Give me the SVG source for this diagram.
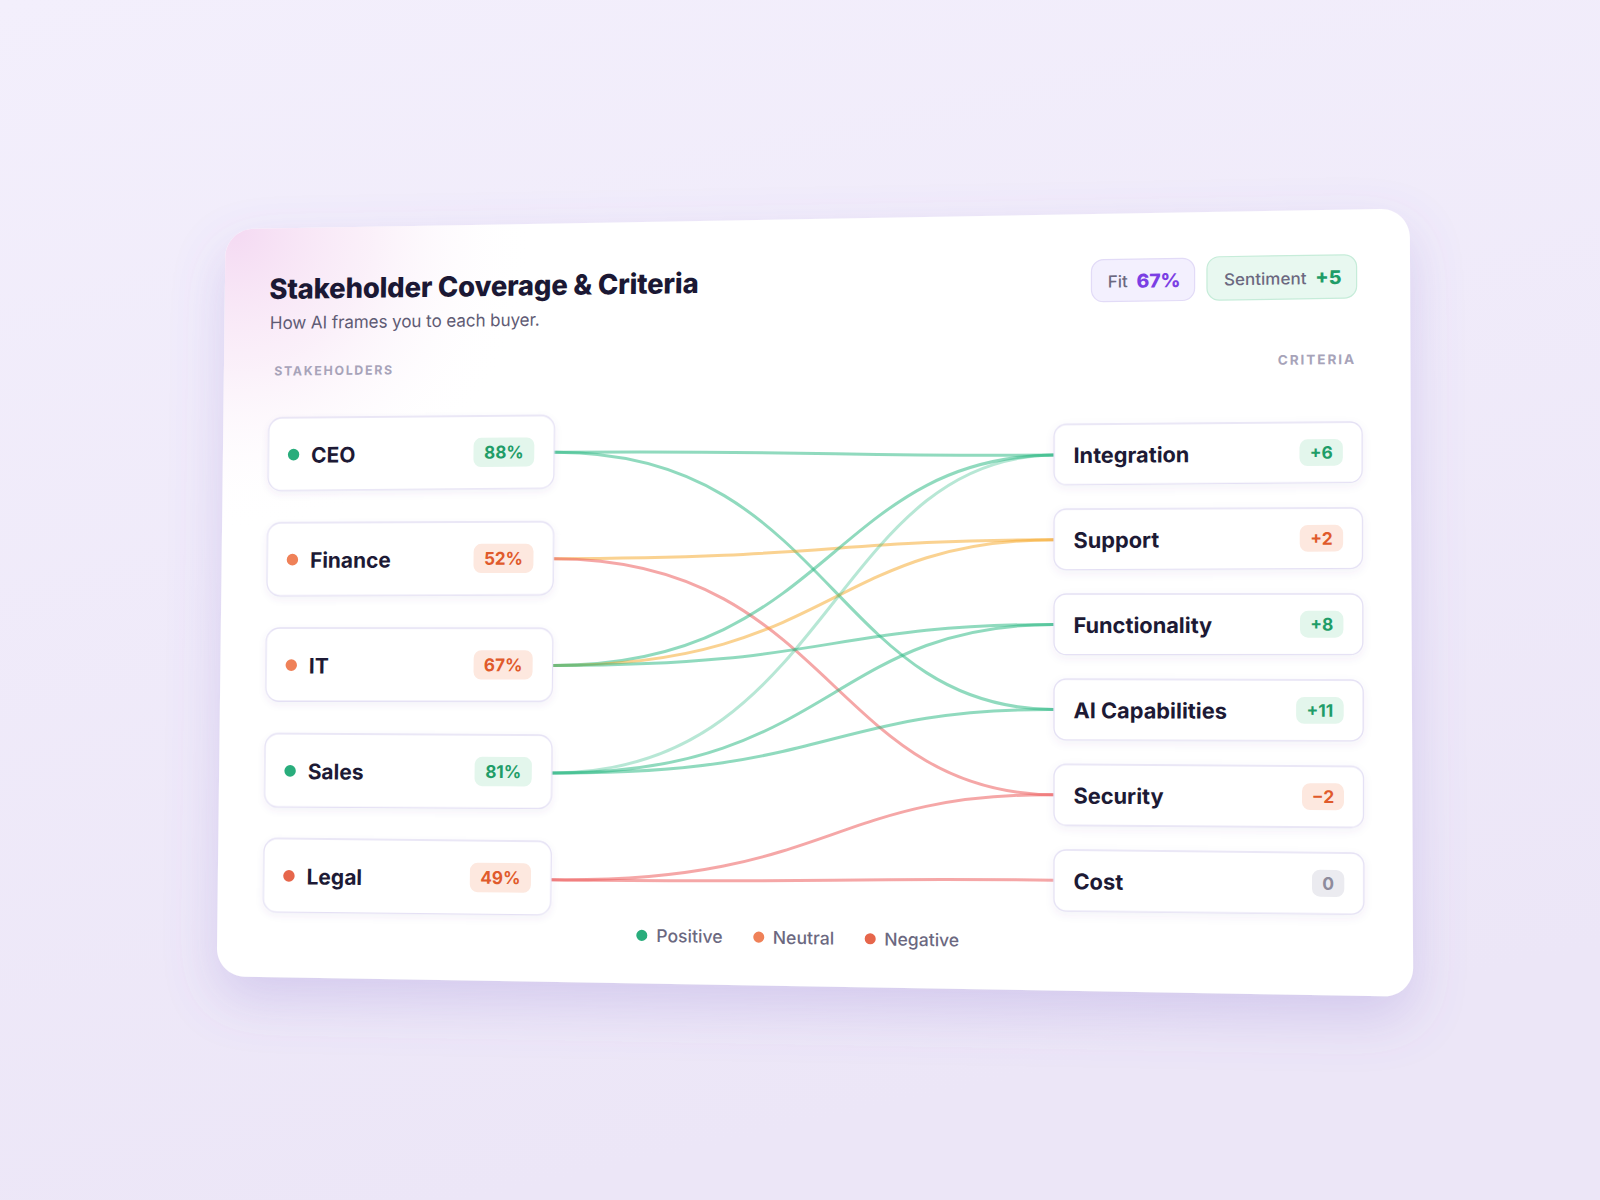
<svg xmlns="http://www.w3.org/2000/svg" width="1600" height="1200" viewBox="0 0 1600 1200">
<defs>
<style>
.f{font-family:Inter,'Liberation Sans',sans-serif}
.title{font-family:Inter,'Liberation Sans',sans-serif;font-weight:800;font-size:29px;letter-spacing:-0.2px;fill:#1b1834}
.sub{font-family:Inter,'Liberation Sans',sans-serif;font-weight:400;font-size:18px;letter-spacing:-0.1px;fill:#5f5b74}
.cap{font-family:Inter,'Liberation Sans',sans-serif;font-weight:700;font-size:13px;letter-spacing:1.8px;fill:#a7a3b9}
.nbox{fill:#ffffff;stroke:#e4e0f4;stroke-width:1.3}
.lbl{font-family:Inter,'Liberation Sans',sans-serif;font-weight:700;font-size:22px;fill:#1d1a35}
.lbr{font-family:Inter,'Liberation Sans',sans-serif;font-weight:700;font-size:21.3px;fill:#1d1a35}
.pct{font-family:Inter,'Liberation Sans',sans-serif;font-weight:700;font-size:18px;text-anchor:middle}
.pct2{font-family:Inter,'Liberation Sans',sans-serif;font-weight:700;font-size:17px;text-anchor:middle}
.gbg{fill:#e3f6ec}.gtx{fill:#1f9d68}
.obg{fill:#fde8df}.otx{fill:#e05a2b}
.nbg{fill:#ebebf0}.ntx{fill:#8e8b9c}
.dpos{fill:#29ad7c}.dneu{fill:#ef8158}.dneg{fill:#e6664b}
.link{fill:none;stroke-width:3}
.pos{stroke:#2bb883;stroke-opacity:.52}
.pos2{stroke:#2bb883;stroke-opacity:.34}
.neu{stroke:#f5a623;stroke-opacity:.5}
.neg{stroke:#ec5f5f;stroke-opacity:.55}
.leg{font-family:Inter,'Liberation Sans',sans-serif;font-weight:500;font-size:17.5px;fill:#6b6880}
.bl{font-family:Inter,'Liberation Sans',sans-serif;font-weight:500;font-size:16.5px;fill:#6b6880}
</style>
<linearGradient id="bg" x1="0" y1="0" x2="0.3" y2="1">
<stop offset="0" stop-color="#f3effc"/>
<stop offset="1" stop-color="#ece6f7"/>
</linearGradient>
<radialGradient id="glow" gradientUnits="userSpaceOnUse" cx="235" cy="232" r="300">
<stop offset="0" stop-color="#f4d8f2" stop-opacity="0.95"/>
<stop offset="0.45" stop-color="#f7e4f5" stop-opacity="0.55"/>
<stop offset="1" stop-color="#ffffff" stop-opacity="0"/>
</radialGradient>
<filter id="cardShadow" x="-20%" y="-20%" width="140%" height="160%">
<feDropShadow dx="0" dy="22" stdDeviation="26" flood-color="#7d62c9" flood-opacity="0.22"/>
</filter>
<filter id="nShadow" x="-10%" y="-20%" width="120%" height="160%">
<feDropShadow dx="0" dy="3" stdDeviation="4" flood-color="#5b4a9e" flood-opacity="0.07"/>
</filter>
</defs>

<rect width="1600" height="1200" fill="url(#bg)"/>

<g id="card">
<path filter="url(#cardShadow)" fill="#ffffff" d="M253.6,228.8 L1380.8,209.0 C1396.8,208.7 1409.8,221.5 1409.9,237.5 L1413.1,967.8 C1413.2,983.8 1400.2,996.6 1384.2,996.3 L244.7,976.7 C229.2,976.4 216.8,963.7 217.0,948.2 L225.3,257.3 C225.5,241.8 238.1,229.1 253.6,228.8 Z"/>
<path fill="url(#glow)" d="M253.6,228.8 L1380.8,209.0 C1396.8,208.7 1409.8,221.5 1409.9,237.5 L1413.1,967.8 C1413.2,983.8 1400.2,996.6 1384.2,996.3 L244.7,976.7 C229.2,976.4 216.8,963.7 217.0,948.2 L225.3,257.3 C225.5,241.8 238.1,229.1 253.6,228.8 Z"/>
</g>

<g id="header">
<g id="title" transform="matrix(0.948 -0.01354 -0.01093 0.9678 270.17 299.09)"><text class="title" x="-1" y="0">Stakeholder Coverage &amp; Criteria</text></g>
<g id="subtitle" transform="matrix(0.94837 -0.01223 -0.01094 0.96862 269.83 329.10)"><text class="sub" x="0" y="0">How AI frames you to each buyer.</text></g>
<g id="label-stakeholders" transform="matrix(0.94912 -0.01018 -0.01093 0.96994 274.20 375.60)"><text class="cap" x="0" y="0">STAKEHOLDERS</text></g>
<g id="label-criteria" transform="matrix(1.04738 -0.01124 0.00366 1.01875 1355.98 363.94)"><text class="cap" x="0" y="0" text-anchor="end">CRITERIA</text></g>
<g id="badge-fit" transform="matrix(1.02127 -0.01592 -0.00006 1.00377 1091.45 259.74)">
<rect x="0" y="0" width="101" height="42" rx="12" fill="#f3f0fe" stroke="#e2dbf7" stroke-width="1.2"/>
<text class="bl" x="16" y="28">Fit</text>
<text class="f" x="44" y="28.5" font-weight="800" font-size="19" fill="#7b3fe4">67%</text>
</g>
<g id="badge-sentiment" transform="matrix(1.0319 -0.01609 0.00155 1.00895 1206.95 256.93)">
<rect x="0" y="0" width="145" height="43" rx="12" fill="#e8f8f0" stroke="#c6ecd9" stroke-width="1.2"/>
<text class="bl" x="16.5" y="28.5">Sentiment</text>
<text class="f" x="105" y="29" font-weight="800" font-size="19" fill="#1f9d68">+5</text>
</g>
</g>

<g id="connectors">
<path class="link pos" d="M553.3,452.3 C830.9,450.3 830.8,456.6 1054.1,455.1"/>
<path class="link pos" d="M553.3,452.3 C830.9,450.3 829.9,708.5 1054.0,709.5"/>
<path class="link neu" d="M552.5,558.7 C830.5,558.1 830.5,540.4 1054.1,539.7"/>
<path class="link neg" d="M552.5,558.7 C830.5,558.1 829.6,792.9 1053.9,794.8"/>
<path class="link pos" d="M551.7,665.4 C830.1,666.1 830.8,456.6 1054.1,455.1"/>
<path class="link neu" d="M551.7,665.4 C830.1,666.1 830.5,540.4 1054.1,539.7"/>
<path class="link pos" d="M551.7,665.4 C830.1,666.1 830.2,624.3 1054.0,624.5"/>
<path class="link pos2" d="M550.9,772.9 C829.7,775.0 830.8,456.6 1054.1,455.1"/>
<path class="link pos" d="M550.9,772.9 C829.7,775.0 830.2,624.3 1054.0,624.5"/>
<path class="link pos" d="M550.9,772.9 C829.7,775.0 829.9,708.5 1054.0,709.5"/>
<path class="link neg" d="M550.1,879.8 C829.3,883.3 829.6,792.9 1053.9,794.8"/>
<path class="link neg" d="M550.1,879.8 C829.3,883.3 829.3,877.4 1053.9,880.2"/>
</g>

<g id="node-ceo" transform="matrix(0.94946 -0.00839 -0.01097 0.97093 268.84 417.88)">
<rect class="nbox" filter="url(#nShadow)" width="301" height="75" rx="14"/>
<circle class="dpos" cx="26.5" cy="38" r="6"/>
<text class="lbl" x="45" y="46.5">CEO</text>
<rect class="gbg" x="216" y="22.5" width="64" height="30" rx="8"/>
<text class="pct gtx" x="248" y="44">88%</text>
</g>
<g id="node-finance" transform="matrix(0.95078 -0.00375 -0.011 0.97373 267.65 522.78)">
<rect class="nbox" filter="url(#nShadow)" width="301" height="75" rx="14"/>
<circle class="dneu" cx="26.5" cy="38" r="6"/>
<text class="lbl" x="45" y="46.5">Finance</text>
<rect class="obg" x="217" y="22.5" width="63" height="30" rx="8"/>
<text class="pct otx" x="248.5" y="44">52%</text>
</g>
<g id="node-it" transform="matrix(0.9521 0.00093 -0.01103 0.97655 266.46 627.99)">
<rect class="nbox" filter="url(#nShadow)" width="301" height="75" rx="14"/>
<circle class="dneu" cx="26.5" cy="38" r="6"/>
<text class="lbl" x="45" y="46.5">IT</text>
<rect class="obg" x="218" y="22.5" width="62" height="30" rx="8"/>
<text class="pct otx" x="249" y="44">67%</text>
</g>
<g id="node-sales" transform="matrix(0.95342 0.00562 -0.01106 0.97937 265.26 733.50)">
<rect class="nbox" filter="url(#nShadow)" width="301" height="75" rx="14"/>
<circle class="dpos" cx="26.5" cy="38" r="6"/>
<text class="lbl" x="45" y="46.5">Sales</text>
<rect class="gbg" x="220" y="22.5" width="60" height="30" rx="8"/>
<text class="pct gtx" x="250" y="44">81%</text>
</g>
<g id="node-legal" transform="matrix(0.95475 0.01035 -0.01109 0.98221 264.06 838.31)">
<rect class="nbox" filter="url(#nShadow)" width="301" height="75" rx="14"/>
<circle class="dneg" cx="26.5" cy="38" r="6"/>
<text class="lbl" x="45" y="46.5">Legal</text>
<rect class="obg" x="216" y="22.5" width="64" height="30" rx="8"/>
<text class="pct otx" x="248" y="44">49%</text>
</g>

<g id="crit-integration" transform="matrix(1.0202 -0.00842 -0.00057 1.00663 1054.15 424.5)">
<rect class="nbox" filter="url(#nShadow)" width="302" height="60" rx="12"/>
<text class="lbr" x="19" y="38.5">Integration</text>
<rect class="gbg" x="240.5" y="16.75" width="42.5" height="26.5" rx="8"/>
<text class="pct2 gtx" x="261.75" y="36.3">+6</text>
</g>
<g id="crit-support" transform="matrix(1.02139 -0.0045 -0.00057 1.00898 1054.11 509.2)">
<rect class="nbox" filter="url(#nShadow)" width="302" height="60" rx="12"/>
<text class="lbr" x="19" y="38.5">Support</text>
<rect class="obg" x="240.5" y="16.75" width="42.5" height="26.5" rx="8"/>
<text class="pct2 otx" x="261.75" y="36.3">+2</text>
</g>
<g id="crit-functionality" transform="matrix(1.02259 -0.00057 -0.00057 1.01135 1054.06 594.05)">
<rect class="nbox" filter="url(#nShadow)" width="302" height="60" rx="12"/>
<text class="lbr" x="19" y="38.5">Functionality</text>
<rect class="gbg" x="240.5" y="16.75" width="42.5" height="26.5" rx="8"/>
<text class="pct2 gtx" x="261.75" y="36.3">+8</text>
</g>
<g id="crit-ai" transform="matrix(1.02378 0.00338 -0.00057 1.01373 1054.01 679.1)">
<rect class="nbox" filter="url(#nShadow)" width="302" height="60" rx="12"/>
<text class="lbr" x="19" y="38.5">AI Capabilities</text>
<rect class="gbg" x="236.5" y="16.75" width="46.5" height="26.5" rx="8"/>
<text class="pct2 gtx" x="259.75" y="36.3">+11</text>
</g>
<g id="crit-security" transform="matrix(1.02498 0.00734 -0.00057 1.01611 1053.96 764.3)">
<rect class="nbox" filter="url(#nShadow)" width="302" height="60" rx="12"/>
<text class="lbr" x="19" y="38.5">Security</text>
<rect class="obg" x="242" y="16.75" width="41" height="26.5" rx="8"/>
<text class="pct2 otx" x="262.5" y="36.3">−2</text>
</g>
<g id="crit-cost" transform="matrix(1.02619 0.01133 -0.00057 1.01851 1053.91 849.8)">
<rect class="nbox" filter="url(#nShadow)" width="302" height="60" rx="12"/>
<text class="lbr" x="19" y="38.5">Cost</text>
<rect class="nbg" x="251.5" y="16.75" width="31.5" height="26.5" rx="8"/>
<text class="pct2 ntx" x="267.25" y="36.3">0</text>
</g>

<g id="legend" transform="matrix(1.00407 0.01508 -0.00406 1.00923 798.93 937.74)">
<circle class="dpos" cx="-156.5" cy="0" r="5.5"/>
<text class="leg" x="-142" y="6.3">Positive</text>
<circle class="dneu" cx="-40" cy="0" r="5.5"/>
<text class="leg" x="-26" y="6.3">Neutral</text>
<circle class="dneg" cx="71" cy="0" r="5.5"/>
<text class="leg" x="85" y="6.3">Negative</text>
</g>
</svg>
